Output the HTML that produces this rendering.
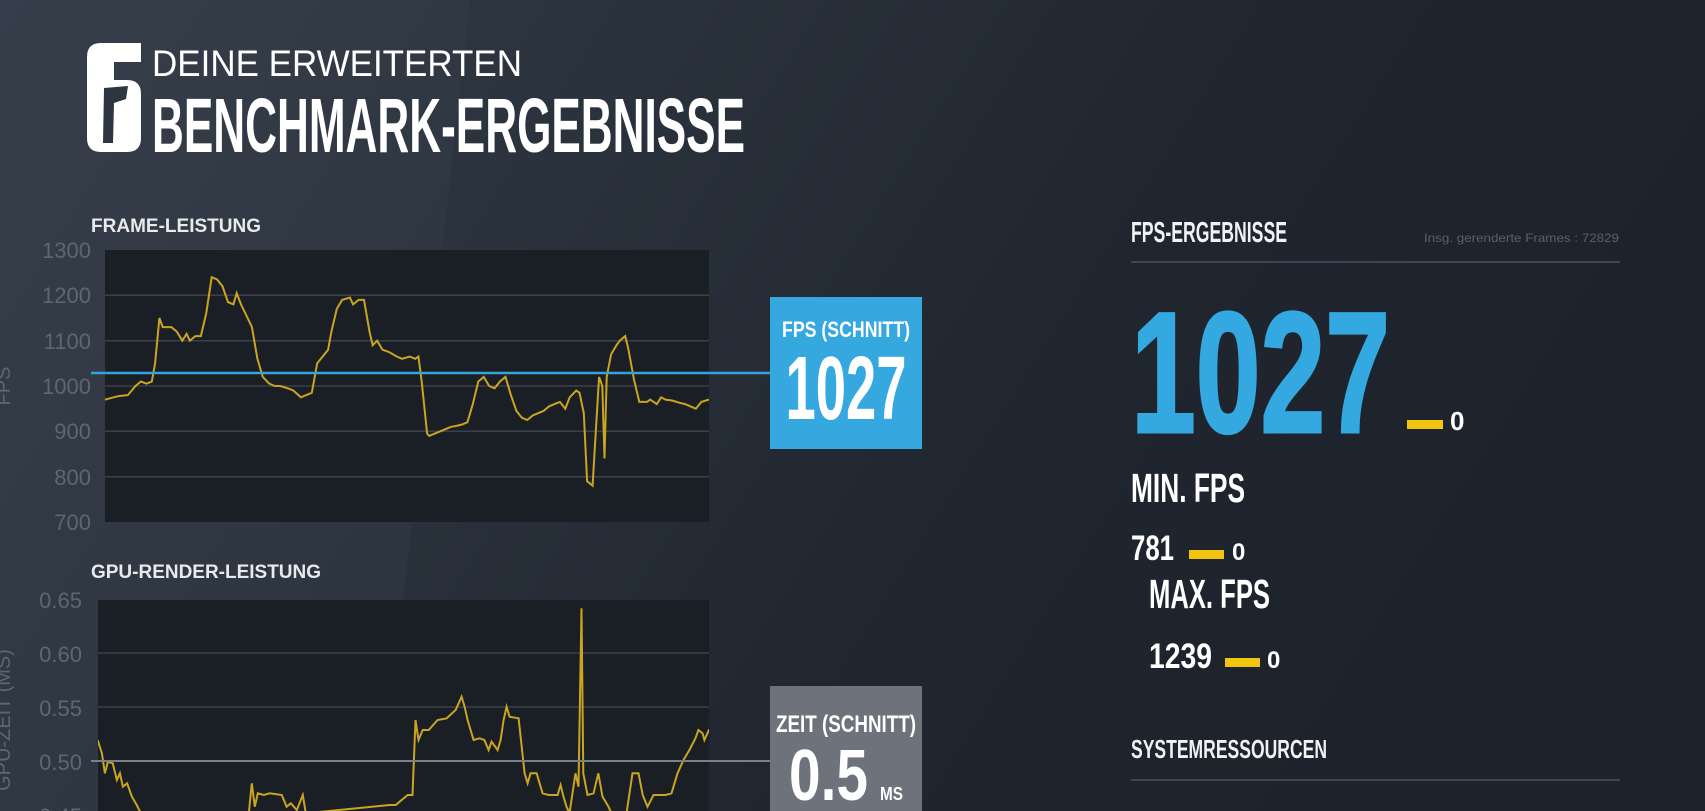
<!DOCTYPE html>
<html><head><meta charset="utf-8"><style>
html,body{margin:0;padding:0;background:#222831;}
svg{display:block}
text{font-family:"Liberation Sans Narrow","Liberation Sans",sans-serif;}
</style></head><body>
<svg width="1705" height="811" viewBox="0 0 1705 811" xmlns="http://www.w3.org/2000/svg">
<defs>
<linearGradient id="bg" x1="0" y1="0" x2="1" y2="0.3">
<stop offset="0" stop-color="#333d48"/><stop offset="0.35" stop-color="#2a323d"/><stop offset="0.7" stop-color="#20262f"/><stop offset="1" stop-color="#1d222b"/>
</linearGradient>
<clipPath id="c1"><rect x="105" y="250" width="604" height="272"/></clipPath>
<clipPath id="c2"><rect x="98" y="600" width="611" height="211"/></clipPath>
</defs>
<rect width="1705" height="811" fill="url(#bg)"/>
<polygon points="0,0 470,0 380,811 0,811" fill="#3a4550" opacity="0.25"/>
<!-- logo -->
<path d="M101,43 L141,43 L141,62 L114,62 L114,80 L127,80 Q141,80 141,94 L141,138 Q141,152 127,152 L101,152 Q87,152 87,138 L87,57 Q87,43 101,43 Z" fill="#fff"/>
<polygon points="104,88 128,86 126,99 114,103 113,143 103,143" fill="#2c3540"/>
<text x="152" y="76" font-size="37" fill="#fff" textLength="370" lengthAdjust="spacingAndGlyphs">DEINE ERWEITERTEN</text>
<text x="152" y="152" font-size="77" font-weight="bold" fill="#fff" textLength="593" lengthAdjust="spacingAndGlyphs">BENCHMARK-ERGEBNISSE</text>
<!-- chart 1 -->
<text x="91" y="232" font-size="19" font-weight="bold" fill="#e8eaec" textLength="170" lengthAdjust="spacingAndGlyphs">FRAME-LEISTUNG</text>
<rect x="105" y="250" width="604" height="272" fill="#1a1e25"/>
<g stroke="#3a414a" stroke-width="1.5">
<line x1="105" x2="709" y1="295.3" y2="295.3"/><line x1="105" x2="709" y1="340.7" y2="340.7"/><line x1="105" x2="709" y1="386" y2="386"/><line x1="105" x2="709" y1="431.3" y2="431.3"/><line x1="105" x2="709" y1="476.7" y2="476.7"/>
</g>
<g font-size="22" fill="#5f666f" text-anchor="end">
<text x="91" y="258">1300</text><text x="91" y="303">1200</text><text x="91" y="349">1100</text><text x="91" y="394">1000</text><text x="91" y="439">900</text><text x="91" y="485">800</text><text x="91" y="530">700</text>
</g>
<path id="p1" clip-path="url(#c1)" fill="none" stroke="#c9a520" stroke-width="2"/>
<line x1="91" x2="770" y1="373" y2="373" stroke="#37a3db" stroke-width="2.5"/>
<rect x="770" y="297" width="152" height="152" fill="#36a8e0"/>
<text x="846" y="337" font-size="22" font-weight="bold" fill="#fff" text-anchor="middle" textLength="128" lengthAdjust="spacingAndGlyphs">FPS (SCHNITT)</text>
<text x="846" y="419" font-size="90" font-weight="bold" fill="#fff" text-anchor="middle" textLength="121" lengthAdjust="spacingAndGlyphs">1027</text>
<!-- chart 2 -->
<text x="91" y="578" font-size="19" font-weight="bold" fill="#e8eaec" textLength="230" lengthAdjust="spacingAndGlyphs">GPU-RENDER-LEISTUNG</text>
<rect x="98" y="600" width="611" height="211" fill="#1a1e25"/>
<g stroke="#3a414a" stroke-width="1.5">
<line x1="98" x2="709" y1="653" y2="653"/><line x1="98" x2="709" y1="707" y2="707"/>
</g>
<g font-size="22" fill="#5f666f" text-anchor="end">
<text x="82" y="608">0.65</text><text x="82" y="662">0.60</text><text x="82" y="716">0.55</text><text x="82" y="770">0.50</text><text x="82" y="824">0.45</text>
</g>
<text transform="translate(10,720) rotate(-90)" font-size="20" fill="#5f666f" text-anchor="middle">GPU-ZEIT (MS)</text>
<text transform="translate(10,386) rotate(-90)" font-size="20" fill="#5f666f" text-anchor="middle">FPS</text>
<path id="p2" clip-path="url(#c2)" fill="none" stroke="#c9a520" stroke-width="2"/>
<line x1="91" x2="770" y1="761" y2="761" stroke="#7a8088" stroke-width="2"/>
<rect x="770" y="686" width="152" height="130" fill="#6e737b"/>
<text x="846" y="732" font-size="24" font-weight="bold" fill="#fff" text-anchor="middle" textLength="140" lengthAdjust="spacingAndGlyphs">ZEIT (SCHNITT)</text>
<text x="789" y="800" font-size="72" font-weight="bold" fill="#fff" textLength="79" lengthAdjust="spacingAndGlyphs">0.5</text>
<text x="880" y="800" font-size="18" font-weight="bold" fill="#fff" textLength="23" lengthAdjust="spacingAndGlyphs">MS</text>
<!-- right -->
<text x="1131" y="242" font-size="29" font-weight="bold" fill="#f0f2f4" textLength="156" lengthAdjust="spacingAndGlyphs">FPS-ERGEBNISSE</text>
<text x="1424" y="242" font-size="12" fill="#59606b" textLength="195" lengthAdjust="spacingAndGlyphs" style="font-family:'Liberation Sans',sans-serif">Insg. gerenderte Frames : 72829</text>
<line x1="1131" x2="1620" y1="262" y2="262" stroke="#4a525d" stroke-width="1.5"/>
<text x="1131" y="432" font-size="172" font-weight="bold" fill="#34a8e0" textLength="259" lengthAdjust="spacingAndGlyphs" stroke="#34a8e0" stroke-width="3">1027</text>
<rect x="1407" y="420" width="36" height="9" fill="#f2c40f"/>
<text x="1450" y="430" font-size="26" font-weight="bold" fill="#fff">0</text>
<text x="1131" y="502" font-size="41" font-weight="bold" fill="#fff" textLength="114" lengthAdjust="spacingAndGlyphs">MIN. FPS</text>
<text x="1131" y="560" font-size="35" font-weight="bold" fill="#fff" textLength="43" lengthAdjust="spacingAndGlyphs">781</text>
<rect x="1189" y="550" width="35" height="9" fill="#f2c40f"/>
<text x="1232" y="560" font-size="24" font-weight="bold" fill="#fff">0</text>
<text x="1149" y="608" font-size="41" font-weight="bold" fill="#fff" textLength="121" lengthAdjust="spacingAndGlyphs">MAX. FPS</text>
<text x="1149" y="668" font-size="35" font-weight="bold" fill="#fff" textLength="63" lengthAdjust="spacingAndGlyphs">1239</text>
<rect x="1225" y="658" width="35" height="9" fill="#f2c40f"/>
<text x="1267" y="668" font-size="24" font-weight="bold" fill="#fff">0</text>
<text x="1131" y="758" font-size="26" font-weight="bold" fill="#f0f2f4" textLength="196" lengthAdjust="spacingAndGlyphs">SYSTEMRESSOURCEN</text>
<line x1="1131" x2="1620" y1="780" y2="780" stroke="#4a525d" stroke-width="1.5"/>
</svg>
<script>
var f=[97,970,105,975,110,978,118,980,125,1000,130,1010,135,1005,140,1010,143,1050,147,1150,150,1130,158,1130,163,1120,168,1100,172,1115,175,1100,180,1110,185,1110,190,1160,195,1240,200,1235,205,1220,210,1185,215,1180,218,1205,222,1180,228,1150,232,1130,237,1060,242,1020,248,1005,253,1000,258,1000,265,995,270,990,277,975,282,980,287,985,292,1050,297,1065,302,1080,305,1120,310,1170,315,1190,322,1195,325,1180,330,1190,335,1190,340,1120,343,1090,347,1100,352,1080,358,1075,365,1065,370,1060,377,1065,382,1060,385,1065,388,1010,393,895,395,890,400,895,405,900,410,905,415,910,420,912,425,915,430,920,435,960,440,1010,445,1020,450,1000,455,995,460,1010,465,1020,470,980,475,945,480,930,485,925,490,935,495,940,500,945,505,955,510,960,515,965,520,950,524,975,530,990,533,985,537,940,540,790,545,780,548,900,551,1020,554,1000,556,840,558,1020,562,1070,567,1090,570,1100,575,1110,578,1080,583,1015,588,965,595,965,598,970,604,960,608,975,612,970,618,968,625,963,630,960,635,955,640,950,645,965,652,970];
var d="";for(var i=0;i<f.length;i+=2){var x=105+(f[i]-97)/555*604,y=250+(1300-f[i+1])*0.4533;d+=(i?"L":"M")+x.toFixed(1)+","+y.toFixed(1);}
document.getElementById("p1").setAttribute("d",d);
var g=[163,660,170,700,175,760,180,725,188,730,195,780,200,760,205,800,212,790,220,830,228,855,235,880,415,880,420,790,425,860,430,820,440,825,450,820,470,825,478,860,485,850,495,870,505,825,510,880,650,855,660,855,680,825,688,825,693,600,698,660,705,630,715,630,730,600,745,595,760,570,770,530,775,560,780,600,785,630,790,660,800,655,808,660,815,690,820,665,830,690,835,660,840,600,845,560,850,590,865,595,875,760,880,790,885,760,895,760,905,820,915,825,930,825,935,795,940,830,945,860,950,880,960,760,965,800,970,265,973,760,980,825,990,820,998,760,1005,830,1015,860,1020,880,1045,880,1055,760,1065,760,1072,825,1080,860,1090,825,1110,825,1120,820,1130,760,1140,720,1150,690,1160,655,1165,630,1172,640,1175,660,1183,628];
d="";for(i=0;i<g.length;i+=2){d+=(i?"L":"M")+(g[i]/1.668).toFixed(1)+","+(520+g[i+1]/3).toFixed(1);}
document.getElementById("p2").setAttribute("d",d);
</script>
</body></html>
